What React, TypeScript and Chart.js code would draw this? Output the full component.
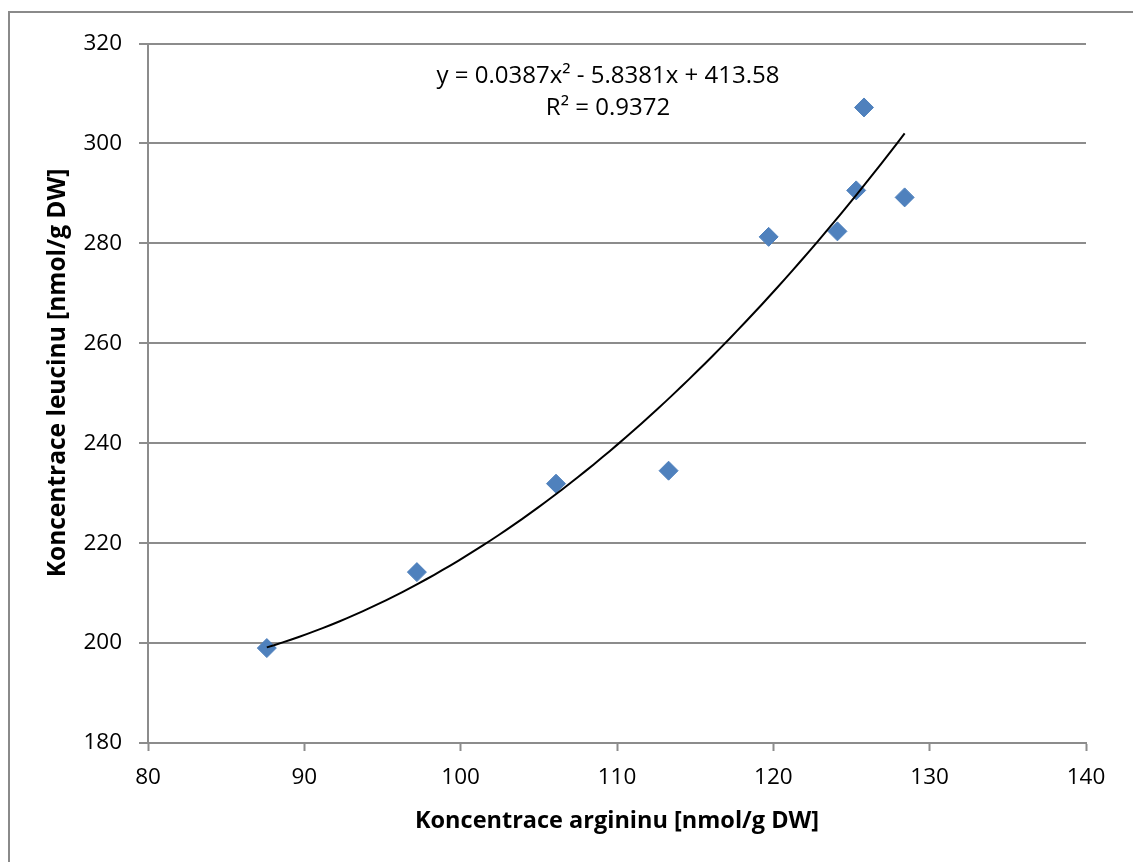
import React, { useEffect, useRef } from "react";
import { Chart, registerables } from "chart.js";

Chart.register(...registerables);

// Data
const arginine = [87.6, 97.2, 106.1, 113.3, 119.7, 124.1, 125.3, 125.8, 128.4];
const leucine = [199.0, 214.2, 231.9, 234.5, 281.3, 282.4, 290.6, 307.2, 289.2];

// Polynomial trendline coefficients (as displayed on the chart)
const trendA = 0.0387;
const trendB = -5.8381;
const trendC = 413.58;
const equationLines = ["y = 0.0387x² - 5.8381x + 413.58", "R² = 0.9372"];

const xAxisTitle = "Koncentrace argininu [nmol/g DW]";
const yAxisTitle = "Koncentrace leucinu [nmol/g DW]";
const xMin = 80;
const xMax = 140;
const xStep = 10;
const yMin = 180;
const yMax = 320;
const yStep = 20;

const FONT = "'Open Sans', 'DejaVu Sans', sans-serif";
const GRID = "#8c8c8c";
const MARKER = "#4F81BD";

const CANVAS_W = 1123;
const CANVAS_H = 849;

export default function App() {
  const ref = useRef<HTMLCanvasElement | null>(null);

  useEffect(() => {
    if (!ref.current) return;
    const points = arginine.map((x, i) => ({ x, y: leucine[i] }));
    const lo = Math.min(...arginine);
    const hi = Math.max(...arginine);
    const trend: { x: number; y: number }[] = [];
    const n = 80;
    for (let i = 0; i <= n; i++) {
      const x = lo + ((hi - lo) * i) / n;
      trend.push({ x, y: trendA * x * x + trendB * x + trendC });
    }

    const labelsPlugin = {
      id: "textLabels",
      afterDraw(chart: any) {
        const ctx = chart.ctx;
        ctx.save();
        ctx.fillStyle = "#000";
        ctx.font = `24px ${FONT}`;
        ctx.textAlign = "center";
        ctx.textBaseline = "middle";
        ctx.fillText(equationLines[0], 598, 63);
        ctx.fillText(equationLines[1], 598, 95);
        // y axis title
        ctx.translate(48, 360);
        ctx.rotate(-Math.PI / 2);
        ctx.font = `bold 24.5px ${FONT}`;
        ctx.fillText(yAxisTitle, 0, 0);
        ctx.restore();
      },
    };

    const chart = new Chart(ref.current, {
      type: "scatter",
      data: {
        datasets: [
          {
            type: "line",
            label: "Trend",
            data: trend,
            borderColor: "#000",
            borderWidth: 2,
            pointRadius: 0,
            fill: false,
            tension: 0,
            order: 0,
          } as any,
          {
            type: "scatter",
            label: "Data",
            data: points,
            pointStyle: "rectRot",
            pointRadius: 9.5,
            pointBackgroundColor: MARKER,
            pointBorderColor: MARKER,
            pointBorderWidth: 1,
            order: 1,
          } as any,
        ],
      },
      options: {
        responsive: false,
        animation: false,
        layout: { padding: { top: 29, right: 47, left: 0, bottom: 0 } },
        plugins: {
          legend: { display: false },
          tooltip: { enabled: false },
        },
        scales: {
          x: {
            type: "linear",
            min: xMin,
            max: xMax,
            afterFit: (s: any) => {
              s.height = 119;
            },
            ticks: {
              stepSize: xStep,
              color: "#000",
              padding: 13,
              font: { family: FONT, size: 22.5 },
              maxRotation: 0,
            },
            grid: {
              drawOnChartArea: false,
              drawTicks: true,
              tickLength: 8,
              tickColor: GRID,
              tickWidth: 2,
            },
            border: { display: true, color: GRID, width: 2 },
            title: {
              display: true,
              text: xAxisTitle,
              color: "#000",
              font: { family: FONT, size: 23.5, weight: "bold" },
              padding: { top: 0, bottom: 27 },
            },
          },
          y: {
            type: "linear",
            min: yMin,
            max: yMax,
            afterFit: (s: any) => {
              s.width = 138;
            },
            ticks: {
              stepSize: yStep,
              color: "#000",
              padding: 17,
              font: { family: FONT, size: 22.5 },
            },
            grid: {
              color: GRID,
              lineWidth: 2,
              drawTicks: true,
              tickLength: 9,
              tickColor: GRID,
              tickWidth: 2,
            },
            border: { display: true, color: GRID, width: 2 },
            title: { display: false, text: yAxisTitle },
          },
        },
      },
      plugins: [labelsPlugin],
    } as any);

    return () => chart.destroy();
  }, []);

  return (
    <div
      style={{
        position: "absolute",
        left: 8,
        top: 11,
        width: 1125,
        height: 851,
        boxSizing: "border-box",
        borderLeft: "2px solid #8a8a8a",
        borderTop: "2px solid #8a8a8a",
        overflow: "hidden",
        background: "#fff",
      }}
    >
      <canvas
        ref={ref}
        width={CANVAS_W}
        height={CANVAS_H}
        style={{ display: "block", width: CANVAS_W, height: CANVAS_H }}
      />
    </div>
  );
}
